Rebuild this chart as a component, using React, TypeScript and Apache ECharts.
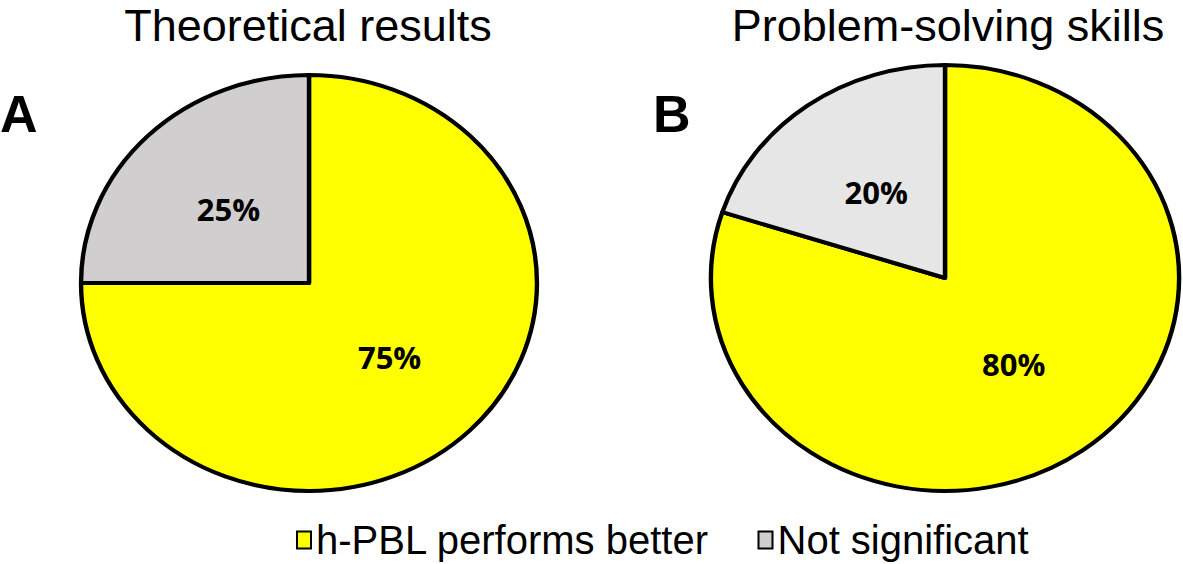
import React, { useEffect, useRef } from "react";
import * as echarts from "echarts";

const categories = ["h-PBL performs better", "Not significant"];
const panelTitles = ["Theoretical results", "Problem-solving skills"];
const panelLetters = ["A", "B"];
// values per category, one entry per panel (A, B)
const betterValues = [75, 80];
const notSignificantValues = [25, 20];
const seriesValues = [betterValues, notSignificantValues];

const categoryColors = ["#FFFF00", "#D0CECE"];
const panelColors = [
  ["#FFFF00", "#D0CECE"],
  ["#FFFF00", "#E7E6E6"],
];
// ellipse geometry per panel
const pieGeom = [
  { cx: 309, cy: 283, rx: 228, ry: 208 },
  { cx: 945, cy: 278, rx: 234, ry: 213 },
];

export default function App() {
  const ref = useRef<HTMLDivElement>(null);
  useEffect(() => {
    document.body.style.margin = "0";
    const chart = echarts.init(ref.current!, undefined, { renderer: "svg" });

    const makeSeries = (k: number) => ({
      type: "custom",
      name: categories[k],
      coordinateSystem: "none",
      itemStyle: { color: categoryColors[k], borderColor: "#000", borderWidth: 2 },
      data: seriesValues[k].map((v) => [v]),
      renderItem: (params: any, api: any) => {
        const p = params.dataIndex;
        const g = pieGeom[p];
        let total = 0;
        for (let j = 0; j < seriesValues.length; j++) total += seriesValues[j][p];
        let before = 0;
        for (let j = 0; j < k; j++) before += seriesValues[j][p];
        const v = api.value(0);
        const start = -Math.PI / 2 + (2 * Math.PI * before) / total;
        const end = start + (2 * Math.PI * v) / total;
        const mid = (start + end) / 2;
        const lx = g.cx + g.rx * 0.5 * Math.cos(mid);
        const ly = g.cy + g.ry * 0.5 * Math.sin(mid);
        return {
          type: "group",
          children: [
            {
              type: "sector",
              x: g.cx,
              y: g.cy,
              scaleX: g.rx / g.ry,
              shape: { cx: 0, cy: 0, r0: 0, r: g.ry, startAngle: start, endAngle: end, clockwise: true },
              style: {
                fill: panelColors[p][k],
                stroke: "#000",
                lineWidth: 4,
                strokeNoScale: true,
                lineJoin: "round",
              },
            },
            {
              type: "text",
              x: lx,
              y: ly,
              style: {
                text: v + "%",
                font: 'bold 31px "Open Sans"',
                fill: "#000",
                align: "center",
                verticalAlign: "middle",
                textAlign: "center",
                textVerticalAlign: "middle",
              },
            },
          ],
        };
      },
    });

    const titleStyle = { fontSize: 45, fontWeight: "normal", color: "#000", fontFamily: "Liberation Sans" };
    const letterStyle = { fontSize: 52, fontWeight: "bold", color: "#000", fontFamily: "Liberation Sans" };

    chart.setOption({
      animation: false,
      backgroundColor: "#fff",
      title: [
        { text: panelTitles[0], left: 308, top: 3, padding: 0, textAlign: "center", textStyle: titleStyle },
        { text: panelTitles[1], left: 948, top: 3, padding: 0, textAlign: "center", textStyle: titleStyle },
        { text: panelLetters[0], left: 0, top: 88, padding: 0, textStyle: letterStyle },
        { text: panelLetters[1], left: 653, top: 88, padding: 0, textStyle: letterStyle },
      ],
      legend: {
        data: categories,
        left: 296,
        top: 520,
        padding: 0,
        icon: "rect",
        itemWidth: 14,
        itemHeight: 17,
        itemGap: 48,
        textStyle: { fontSize: 40, lineHeight: 40, color: "#000", fontFamily: "Liberation Sans" },
      },
      series: [makeSeries(0), makeSeries(1)],
    });
    return () => chart.dispose();
  }, []);
  return <div ref={ref} style={{ width: 1183, height: 564 }} />;
}
